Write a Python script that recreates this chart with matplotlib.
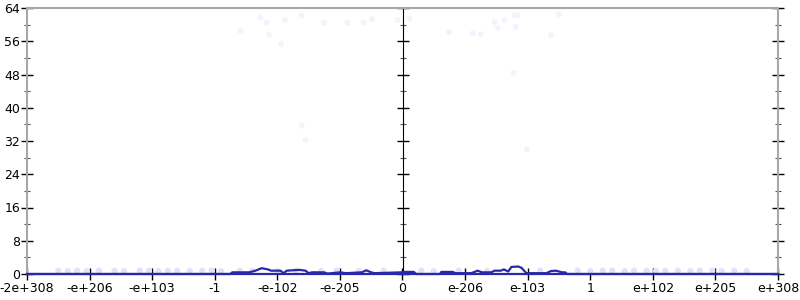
import matplotlib
matplotlib.use("Agg")
import matplotlib.pyplot as plt
from matplotlib.ticker import MultipleLocator, NullFormatter

# Tick positions (abstract float-ordering axis) and labels
tick_pos = [-6, -5, -4, -3, -2, -1, 0, 1, 2, 3, 4, 5, 6]
tick_labels = ["-2e+308", "-e+206", "-e+103", "-1", "-e-102", "-e-205", "0",
               "e-206", "e-103", "1", "e+102", "e+205", "e+308"]
y_ticks = [0, 8, 16, 24, 32, 40, 48, 56, 64]

# Histogram line (count per bin)
hist_x = [-6.0, -2.75, -2.72, -2.45, -2.35, -2.25, -2.15, -2.1, -1.95, -1.9, -1.85,
          -1.65, -1.55, -1.5, -1.45, -1.25, -1.2, -1.0, -0.9, -0.65, -0.58, -0.5,
          -0.45, -0.02, 0.02, 0.18, 0.22, 0.6, 0.62, 0.8, 0.85, 1.1, 1.2, 1.27,
          1.42, 1.47, 1.57, 1.62, 1.69, 1.74, 1.85, 1.9, 1.98, 2.3, 2.37, 2.45,
          2.55, 2.6, 2.63, 6.0]
hist_y = [0, 0, 0.4, 0.4, 0.8, 1.4, 1.1, 0.8, 0.8, 0.2, 0.8,
          1.0, 0.8, 0.2, 0.4, 0.4, 0.1, 0.4, 0.2, 0.4, 0.9, 0.4,
          0.2, 0.4, 0.5, 0.5, 0.0, 0.0, 0.5, 0.5, 0.2, 0.2, 0.8, 0.4,
          0.4, 0.8, 0.8, 1.1, 0.6, 1.7, 1.8, 1.5, 0.2, 0.2, 0.7, 0.8,
          0.4, 0.4, 0.0, 0.0]

# Faint sample points (high outliers)
pts_x = [-2.27, -2.17, -1.88, -1.61, -1.25, -0.88, -0.62, -0.49, -0.08,
         -2.59, -2.13, -1.94, -1.61, -1.55,
         0.11, 0.74, 1.12, 1.25, 1.47, 1.52, 1.63, 1.79, 1.84, 1.81, 2.50,
         2.37, 1.78, 1.99]
pts_y = [61.7, 60.4, 61.1, 62.2, 60.4, 60.4, 60.6, 61.3, 61.1,
         58.5, 57.6, 55.4, 35.7, 32.3,
         61.5, 58.2, 57.9, 57.7, 60.6, 59.2, 61.1, 62.3, 62.2, 59.5, 62.5,
         57.5, 48.4, 30.0]

# Faint sample points near the baseline
base_x = [-5.5, -5.35, -5.2, -5.05, -4.85, -4.6, -4.45, -4.2, -4.05, -3.9, -3.75,
          -3.6, -3.4, -3.2, -3.05, -2.9, -2.6, -2.4, -2.0, -1.7, -1.3, -1.05,
          -0.7, -0.3, 0.3, 0.5, 0.9, 1.35, 2.2, 2.8, 3.0, 3.2, 3.35, 3.55,
          3.7, 3.9, 4.05, 4.2, 4.4, 4.6, 4.75, 4.95, 5.1, 5.3, 5.5]
base_y = [0.8, 0.7, 0.8, 0.7, 0.8, 0.8, 0.7, 0.8, 0.8, 0.7, 0.8,
          0.8, 0.7, 0.8, 0.8, 0.7, 0.8, 0.8, 0.7, 0.8, 0.7, 0.8,
          0.7, 0.8, 0.8, 0.7, 0.8, 0.7, 0.8, 0.8, 0.7, 0.8, 0.8, 0.7,
          0.8, 0.8, 0.7, 0.8, 0.8, 0.7, 0.8, 0.8, 0.7, 0.8, 0.7]

fig = plt.figure(figsize=(8, 3), dpi=100)
ax = fig.add_axes([27 / 800, 26 / 300, 751 / 800, 266 / 300])

gray = "#a8a8a8"
ax.scatter(pts_x, pts_y, s=18, color="#f3f3ff", edgecolors="none", zorder=2)
ax.scatter(base_x, base_y, s=20, color="#e2e2fb", edgecolors="none", zorder=2)
ax.plot(hist_x, hist_y, color="#2828a8", lw=1.6, zorder=4, clip_on=False)

ax.set_xlim(-6, 6)
ax.set_ylim(0, 64)
ax.set_xticks(tick_pos)
ax.set_xticklabels(tick_labels)
ax.set_yticks(y_ticks)
ax.yaxis.set_minor_locator(MultipleLocator(4))

for s in ["left", "right", "top"]:
    ax.spines[s].set_color(gray)
    ax.spines[s].set_linewidth(1.5)
ax.spines["bottom"].set_color("#2828a8")
ax.spines["bottom"].set_linewidth(1.6)

ax.tick_params(axis="y", which="major", direction="inout", length=8, width=1,
               color="black", left=True, right=True, labelsize=9, pad=1)
ax.tick_params(axis="y", which="minor", direction="inout", length=5, width=0.8,
               color="#555555", left=True, right=True)
ax.tick_params(axis="x", which="major", direction="inout", length=8, width=1,
               color="black", labelsize=9, pad=2)

# Centre axis line with ticks
sec = ax.secondary_yaxis(0.5)
sec.spines["left"].set_color(gray)
sec.spines["left"].set_linewidth(1.5)
sec.set_yticks(y_ticks)
sec.yaxis.set_major_formatter(NullFormatter())
sec.yaxis.set_minor_locator(MultipleLocator(4))
sec.tick_params(axis="y", which="major", direction="inout", length=8, width=1,
                color="black", labelleft=False, labelright=False)
sec.tick_params(axis="y", which="minor", direction="inout", length=5, width=0.8,
                color="#555555")

fig.savefig("out.png", dpi=100)
